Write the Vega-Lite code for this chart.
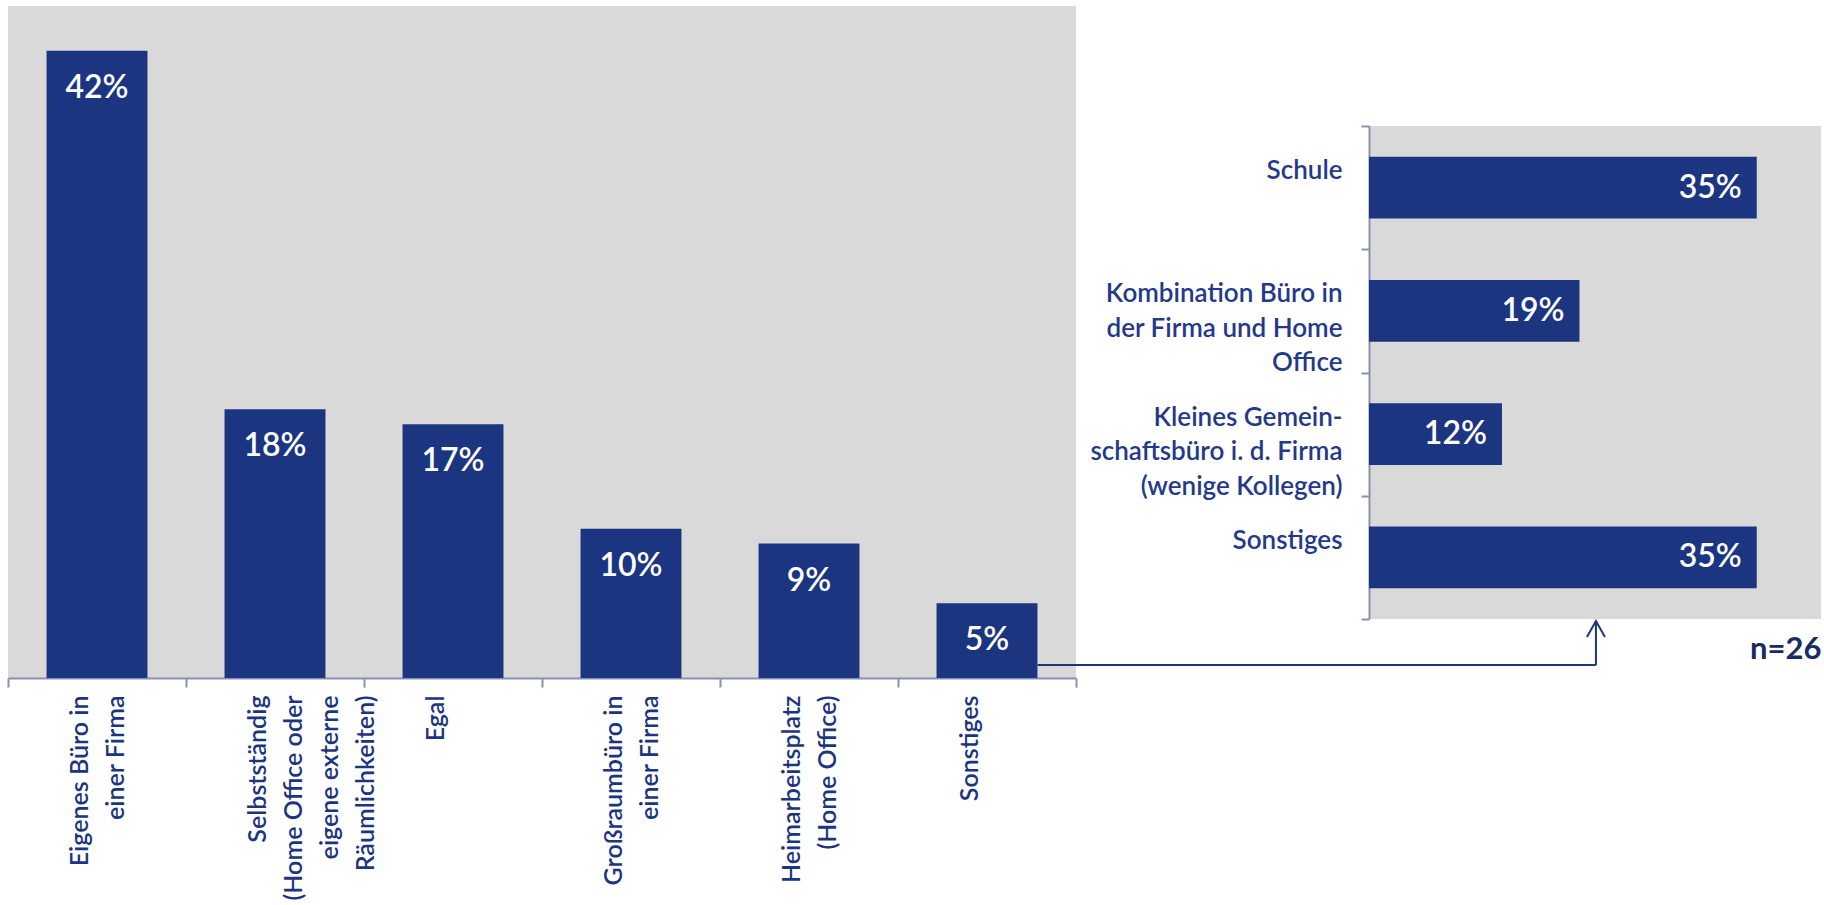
{
  "$schema": "https://vega.github.io/schema/vega-lite/v6.json",
  "background": "white",
  "padding": {"left": -4, "top": 6, "right": 0, "bottom": 0},
  "config": {"view": {"stroke": null}, "font": "Lato"},
  "bounds": "flush",
  "spacing": 293,
  "hconcat": [
    {
      "width": 1068,
      "height": 672,
      "view": {"fill": "#d9d9d9", "stroke": null},
      "data": {"values": [
        {"Arbeitsplatz": "Eigenes Büro in\neiner Firma", "Anteil": 0.42},
        {"Arbeitsplatz": "Selbstständig\n(Home Office oder\neigene externe\nRäumlichkeiten)", "Anteil": 0.18},
        {"Arbeitsplatz": "Egal", "Anteil": 0.17},
        {"Arbeitsplatz": "Großraumbüro in\neiner Firma", "Anteil": 0.10},
        {"Arbeitsplatz": "Heimarbeitsplatz\n(Home Office)", "Anteil": 0.09},
        {"Arbeitsplatz": "Sonstiges", "Anteil": 0.05}
      ]},
      "layer": [
        {
          "mark": {"type": "bar", "color": "#1c3580", "width": {"band": 0.567}},
          "encoding": {
            "x": {"field": "Arbeitsplatz", "type": "nominal", "sort": null,
              "scale": {"paddingInner": 0, "paddingOuter": 0},
              "axis": {
                "title": null, "labelAngle": -90,
                "labelAlign": "right",
                "labelPadding": 8,
                "labelBaseline": "middle",
                "labelOffset": -18,
                "labelExpr": "split(datum.label, '\\n')",
                "labelFont": "Lato", "labelFontSize": 25, "labelFontWeight": 600,
                "labelColor": "#1c3580", "labelLineHeight": 36, "labelLimit": 0, "labelOverlap": false,
                "tickBand": "extent", "tickSize": 9, "tickWidth": 2, "tickColor": "#8b8fb0",
                "domainColor": "#8b8fb0", "domainWidth": 2, "grid": false
              }},
            "y": {"field": "Anteil", "type": "quantitative", "scale": {"domain": [0, 0.45], "nice": false}, "axis": null}
          }
        },
        {
          "mark": {"type": "text", "color": "white", "baseline": "middle", "dy": 37, "font": "Lato", "fontSize": 32, "fontWeight": 600},
          "encoding": {
            "x": {"field": "Arbeitsplatz", "type": "nominal", "sort": null,
              "scale": {"paddingInner": 0, "paddingOuter": 0}, "axis": null},
            "y": {"field": "Anteil", "type": "quantitative", "scale": {"domain": [0, 0.45], "nice": false}, "axis": null},
            "text": {"field": "Anteil", "type": "quantitative", "format": ".0%"}
          }
        },
        {
          "data": {"values": [
            {"x1": 5.7835, "x2": 8.921, "y1": 0.0087, "y2": 0.0087},
            {"x1": 8.921, "x2": 8.921, "y1": 0.0087, "y2": 0.0382}
          ]},
          "mark": {"type": "rule", "color": "#1c3580", "strokeWidth": 2},
          "encoding": {
            "x": {"field": "x1", "type": "quantitative", "scale": {"domain": [0, 6], "nice": false, "zero": true}, "axis": null},
            "x2": {"field": "x2"},
            "y": {"field": "y1", "type": "quantitative", "axis": null},
            "y2": {"field": "y2"}
          }
        },
        {
          "data": {"values": [{"x": 8.921, "y": 0.0382}]},
          "mark": {"type": "point", "shape": "M -0.5625 1 L 0 0 L 0.5625 1", "size": 1024, "filled": false, "stroke": "#1c3580", "strokeWidth": 2, "opacity": 1},
          "encoding": {
            "x": {"field": "x", "type": "quantitative", "scale": {"domain": [0, 6], "nice": false, "zero": true}, "axis": null},
            "y": {"field": "y", "type": "quantitative", "axis": null}
          }
        }
      ],
      "resolve": {"scale": {"x": "independent"}, "axis": {"x": "independent"}}
    },
    {
      "bounds": "flush",
      "spacing": 0,
      "vconcat": [
        {
          "width": 452,
          "height": 120,
          "view": {"stroke": null, "fill": null},
          "data": {"values": [{"a": 1}]},
          "mark": {"type": "point", "opacity": 0},
          "encoding": {}
        },
        {
          "width": 452,
          "height": 493,
          "view": {"fill": "#d9d9d9", "stroke": null},
          "data": {"values": [
            {"Arbeitsplatz": "Schule", "Anteil": 0.35},
            {"Arbeitsplatz": "Kombination Büro in\nder Firma und Home\nOffice", "Anteil": 0.19},
            {"Arbeitsplatz": "Kleines Gemein-\nschaftsbüro i. d. Firma\n(wenige Kollegen)", "Anteil": 0.12},
            {"Arbeitsplatz": "Sonstiges", "Anteil": 0.35}
          ]},
          "encoding": {
            "y": {"field": "Arbeitsplatz", "type": "nominal", "sort": null,
              "scale": {"paddingInner": 0, "paddingOuter": 0},
              "axis": {
                "title": null,
                "labelExpr": "split(datum.label, '\\n')",
                "labelAlign": "right",
                "labelPadding": 19,
                "labelOffset": -17,
                "labelFont": "Lato", "labelFontSize": 26, "labelFontWeight": 600,
                "labelColor": "#24398a", "labelLineHeight": 34.5, "labelLimit": 0, "labelOverlap": false,
                "tickBand": "extent", "tickSize": 8, "tickWidth": 2, "tickColor": "#8b8fb0",
                "domainColor": "#8b8fb0", "domainWidth": 2, "grid": false
              }},
            "x": {"field": "Anteil", "type": "quantitative", "scale": {"domain": [0, 0.408], "nice": false},
              "axis": {"title": "n=26", "labels": false, "ticks": false, "domain": false, "grid": false,
                "titleAnchor": "end", "titleAlign": "right", "titleFont": "Lato", "titleFontSize": 31, "titleFontWeight": "bold",
                "titleColor": "#1a2b5f", "titlePadding": 15}}
          },
          "layer": [
            {"mark": {"type": "bar", "color": "#1c3580", "height": {"band": 0.5}}},
            {
              "mark": {"type": "text", "color": "white", "align": "right", "baseline": "middle", "dx": -15, "font": "Lato", "fontSize": 32, "fontWeight": 600},
              "encoding": {"text": {"field": "Anteil", "type": "quantitative", "format": ".0%"}}
            }
          ]
        }
      ]
    }
  ]
}
